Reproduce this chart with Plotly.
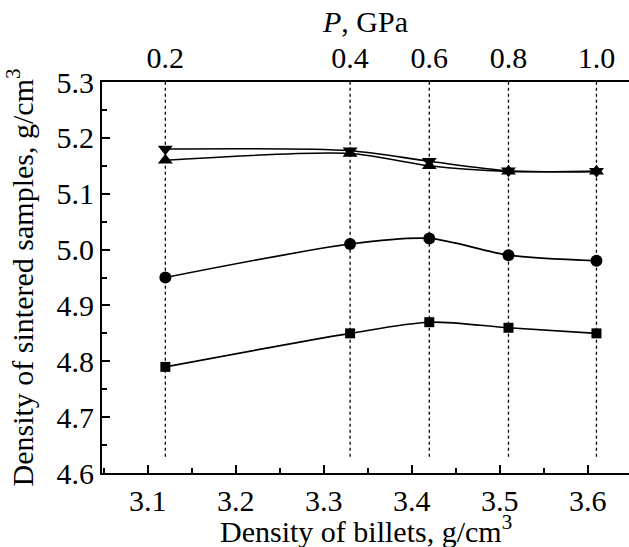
import plotly.graph_objects as go

billet_density = [3.12, 3.33, 3.42, 3.51, 3.61]
pressure_labels = ["0.2", "0.4", "0.6", "0.8", "1.0"]

series_square = [4.79, 4.85, 4.87, 4.86, 4.85]
series_circle = [4.95, 5.01, 5.02, 4.99, 4.98]
series_tri_up = [5.16, 5.172, 5.15, 5.14, 5.14]
series_tri_down = [5.18, 5.177, 5.158, 5.141, 5.14]

x_ticks = [3.1, 3.2, 3.3, 3.4, 3.5, 3.6]
x_tick_labels = ["3.1", "3.2", "3.3", "3.4", "3.5", "3.6"]
y_ticks = [4.6, 4.7, 4.8, 4.9, 5.0, 5.1, 5.2, 5.3]
y_tick_labels = ["4.6", "4.7", "4.8", "4.9", "5.0", "5.1", "5.2", "5.3"]

y_range = [4.6, 5.3]
x_range = [3.048, 3.647]
guide_y = [4.629, 5.3]

FONT = "Liberation Serif"
FS = 30


def serif(labels):
    return ["<span style='font-family:Liberation Serif'>%s</span>" % t for t in labels]


fig = go.Figure()

# dotted guide lines at each pressure
gx, gy = [], []
for xv in billet_density:
    gx += [xv, xv, None]
    gy += [guide_y[0], guide_y[1], None]
fig.add_trace(go.Scatter(x=gx, y=gy, mode="lines",
                         line=dict(color="black", width=1.3, dash="dot"),
                         hoverinfo="skip", showlegend=False))

def add_series(y, symbol, size):
    fig.add_trace(go.Scatter(
        x=billet_density, y=y, mode="lines+markers",
        line=dict(color="black", width=1.6, shape="spline", smoothing=0.8),
        marker=dict(symbol=symbol, size=size, color="black"),
        showlegend=False))

add_series(series_square, "square", 10)
add_series(series_circle, "circle", 12)
add_series(series_tri_up, "triangle-up", 13)
add_series(series_tri_down, "triangle-down", 13)

# invisible trace for the top axis
fig.add_trace(go.Scatter(x=billet_density, y=series_square, xaxis="x2",
                         mode="markers", marker=dict(opacity=0),
                         hoverinfo="skip", showlegend=False))

fig.update_layout(
    width=629, height=547,
    margin=dict(l=102, r=0, t=82, b=74),
    paper_bgcolor="white", plot_bgcolor="white",
    font=dict(family=FONT, size=FS, color="black"),
    xaxis=dict(
        range=x_range, tickvals=x_ticks, ticktext=serif(x_tick_labels),
        ticks="inside", ticklen=8, tickwidth=1.5, tickcolor="black",
        minor=dict(dtick=0.05, tick0=3.05, ticks="inside", ticklen=5,
                   tickwidth=1.5, tickcolor="black"),
        showline=True, linecolor="black", linewidth=2,
        showgrid=False, zeroline=False, automargin=False,
        tickfont=dict(family=FONT, size=FS),
    ),
    xaxis2=dict(
        overlaying="x", side="top", range=x_range,
        tickvals=billet_density, ticktext=serif(pressure_labels),
        ticks="", showline=True, linecolor="black", linewidth=2,
        showgrid=False, zeroline=False, automargin=False,
        title=dict(text="<i>P</i>, GPa", font=dict(family=FONT, size=FS), standoff=0),
        tickfont=dict(family=FONT, size=FS),
    ),
    yaxis=dict(
        range=y_range, tickvals=y_ticks, ticktext=serif(y_tick_labels),
        ticks="inside", ticklen=8, tickwidth=1.5, tickcolor="black",
        minor=dict(dtick=0.05, tick0=4.6, ticks="inside", ticklen=5,
                   tickwidth=1.5, tickcolor="black"),
        showline=True, linecolor="black", linewidth=2,
        showgrid=False, zeroline=False, automargin=False,
        title=dict(text="Density of sintered samples, g/cm<sup>3</sup>",
                   font=dict(family=FONT, size=FS), standoff=14),
        tickfont=dict(family=FONT, size=FS),
    ),
    annotations=[dict(
        text="Density of billets, g/cm<sup>3</sup>",
        xref="paper", yref="paper", x=0.5, y=-74 / 390.7,
        xanchor="center", yanchor="bottom", showarrow=False,
        font=dict(family=FONT, size=FS), yshift=-3,
    )],
)

fig.write_html("out.html", config={"displayModeBar": False},
               post_script="document.body.style.margin='0';")
